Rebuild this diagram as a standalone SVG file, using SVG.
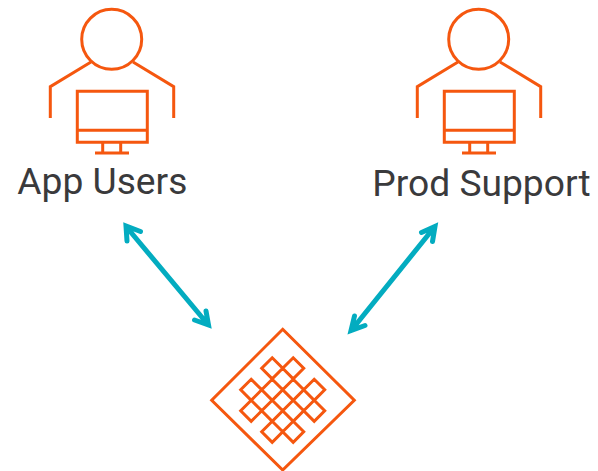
<svg xmlns="http://www.w3.org/2000/svg" width="598" height="471" viewBox="0 0 598 471">
<style>
.o{fill:none;stroke:#f5570f;stroke-width:3}
.t{font-family:Roboto,sans-serif;font-size:37.2px;fill:#3a3a3c}
.a{fill:none;stroke:#03acc0;stroke-width:5;stroke-linecap:round;stroke-linejoin:miter;stroke-miterlimit:8}
</style>
<defs>
<g id="user">
<circle class="o" cx="111.7" cy="39.3" r="30"/>
<path class="o" d="M91 62L50.3 86.7V118M133 62L173.7 86.7V118"/>
<path class="o" d="M77.3 91.3H147.3V142.3H77.3ZM77.3 130.3H147.3M102.7 142.3V153M120.7 142.3V153M95 153H129"/>
</g>
</defs>
<rect width="598" height="471" fill="#fff"/>
<g id="app-users">
<use href="#user"/>
<text class="t" x="17.3" y="194">App Users</text>
</g>
<g id="prod-support">
<use href="#user" x="367"/>
<text class="t" x="372.3" y="196">Prod Support</text>
</g>
<g id="mesh">
<path class="o" d="M282.7 329.3L354.3 400.3L282.7 470L211.7 400.3Z"/>
<path class="o" d="M272.2 357.8L282.7 368.3L272.2 378.8L261.7 368.3ZM293.2 357.8L303.7 368.3L293.2 378.8L282.7 368.3ZM251.2 379.3L261.7 389.8L251.2 400.3L240.7 389.8ZM272.2 379.3L282.7 389.8L272.2 400.3L261.7 389.8ZM293.2 379.3L303.7 389.8L293.2 400.3L282.7 389.8ZM314.2 379.3L324.7 389.8L314.2 400.3L303.7 389.8ZM251.2 400.3L261.7 410.8L251.2 421.3L240.7 410.8ZM272.2 400.3L282.7 410.8L272.2 421.3L261.7 410.8ZM293.2 400.3L303.7 410.8L293.2 421.3L282.7 410.8ZM314.2 400.3L324.7 410.8L314.2 421.3L303.7 410.8ZM272.2 421.3L282.7 431.8L272.2 442.3L261.7 431.8ZM293.2 421.3L303.7 431.8L293.2 442.3L282.7 431.8Z"/>
</g>
<g id="connectors">
<path class="a" d="M126.5 227L208 324.5M140.5 231.5L126 226L127 241M206 311L208.5 325L194.5 320"/>
<path class="a" d="M434.5 227L352 329.5M421.5 232.5L435 226.5L432.5 241.5M354.5 316L351 330.5L365 325.5"/>
</g>
</svg>
